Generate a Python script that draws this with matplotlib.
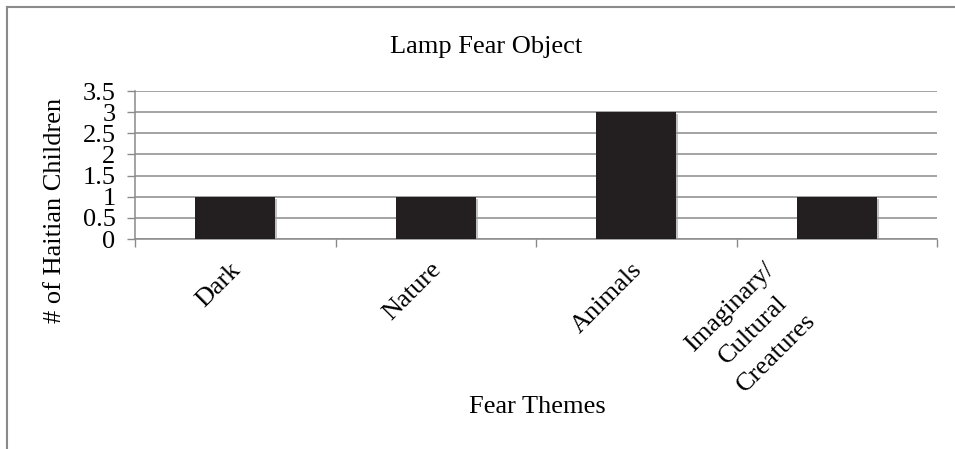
"""Lamp fear object bar chart."""

import matplotlib.pyplot as plt
import matplotlib.transforms as mtransforms
from matplotlib import patheffects
from matplotlib.lines import Line2D

categories = ["Dark", "Nature", "Animals", "Imaginary/\nCultural\nCreatures"]
counts = [1, 1, 3, 1]
yticks = [0, 0.5, 1, 1.5, 2, 2.5, 3, 3.5]

plt.rcParams["font.family"] = ["Liberation Serif", "DejaVu Serif"]
GRAY = "#8a8a8a"
FS = 19

fig = plt.figure(figsize=(9.55, 4.49), dpi=100)
W, H = 955, 449
ax = fig.add_axes([135 / W, 1 - 239 / H, (937 - 135) / W, (239 - 91) / H])

x = range(len(categories))
bars = ax.bar(x, counts, width=0.4, color="#231f20", zorder=3)
for b in bars:
    b.set_path_effects([patheffects.SimplePatchShadow(offset=(1.5, -1.5), shadow_rgbFace="#9a9a9a", alpha=0.6),
                        patheffects.Normal()])

ax.set_xlim(-0.5, len(categories) - 0.5)
ax.set_ylim(0, 3.5)
ax.set_yticks(yticks, labels=[f"{v:g}" for v in yticks], fontsize=FS)
ax.yaxis.grid(True, color=GRAY, lw=1.1, zorder=0)
ax.tick_params(axis="y", length=6, color=GRAY, width=1, pad=8)

ax.set_xticks(list(x))
ax.set_xticklabels(categories, rotation=45, ha="right", va="top", fontsize=FS)
ax.set_xticks([i - 0.5 for i in range(len(categories) + 1)], minor=True)
ax.tick_params(axis="x", which="major", length=0, pad=14)
ax.tick_params(axis="x", which="minor", length=6, color=GRAY, width=1)
for lab in ax.get_xticklabels():
    multi = "\n" in lab.get_text()
    dx = -12 if multi else 10
    shift = mtransforms.ScaledTranslation(dx / 100, 0, fig.dpi_scale_trans)
    lab.set_transform(lab.get_transform() + shift)
    lab.set_multialignment("center")
    lab.set_linespacing(1.6)

for s in ("top", "right"):
    ax.spines[s].set_visible(False)
for s in ("left", "bottom"):
    ax.spines[s].set_color(GRAY)
    ax.spines[s].set_linewidth(1.1)

fig.text(486 / W, 1 - 53 / H, "Lamp Fear Object", ha="center", va="baseline", fontsize=FS)
fig.text(537 / W, 1 - 413 / H, "Fear Themes", ha="center", va="baseline", fontsize=FS)
fig.text(55 / W, 1 - 210 / H, "# of Haitian Children", ha="center", va="center",
         rotation=90, fontsize=FS)

# outer chart border (right and bottom edges fall outside the image)
fig.add_artist(Line2D([7 / W, 7 / W], [0, 1 - 7 / H], color=GRAY, lw=1.5))
fig.add_artist(Line2D([7 / W, 1], [1 - 7 / H, 1 - 7 / H], color=GRAY, lw=1.5))

fig.savefig("out.png", dpi=100, facecolor="white")
